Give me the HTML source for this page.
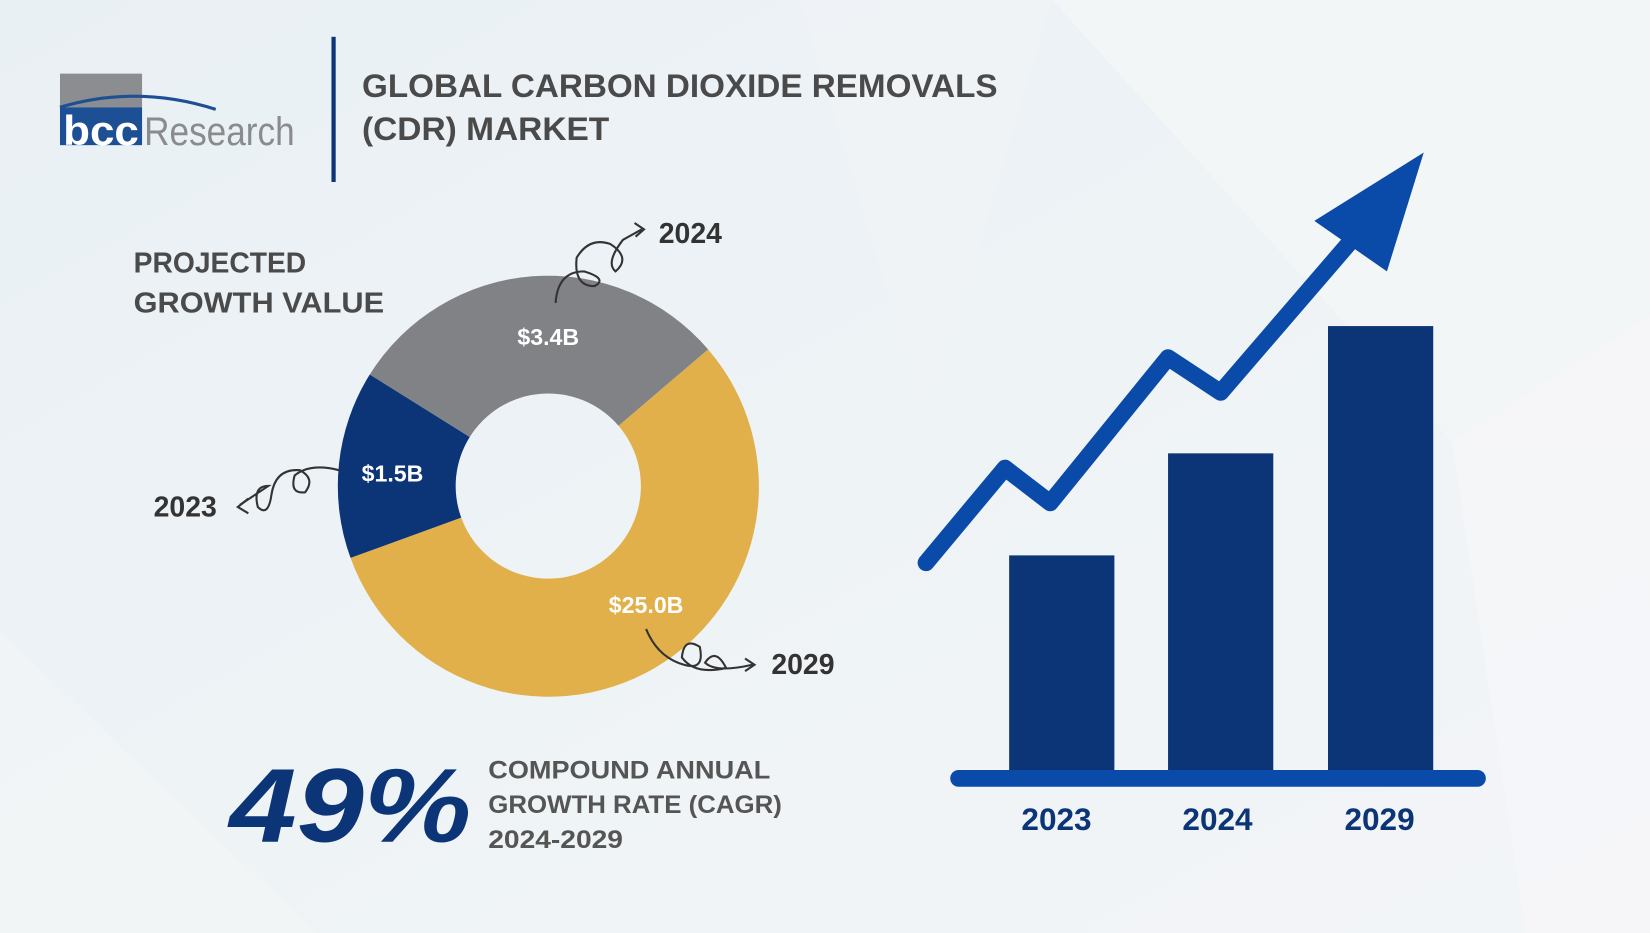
<!DOCTYPE html>
<html><head><meta charset="utf-8"><style>html,body{margin:0;padding:0;overflow:hidden}svg{display:block}</style></head>
<body>
<svg width="1650" height="933" viewBox="0 0 1568 887" preserveAspectRatio="none" xmlns="http://www.w3.org/2000/svg" font-family="'Liberation Sans', sans-serif">
<defs>
<linearGradient id="bg" x1="0" y1="0" x2="1" y2="1">
<stop offset="0" stop-color="#e9f0f4"/><stop offset="0.5" stop-color="#eef3f6"/><stop offset="1" stop-color="#f3f5f7"/>
</linearGradient>
</defs>
<rect width="1568" height="887" fill="url(#bg)"/>
<polygon points="1000,0 1568,0 1568,420 1380,420" fill="#f4f6f8" opacity="0.8"/>
<polygon points="1380,420 1568,300 1568,887 1450,887" fill="#f6f7f9" opacity="0.7"/>
<polygon points="0,600 300,887 0,887" fill="#f2f5f7" opacity="0.7"/>
<polygon points="760,0 1000,0 880,400" fill="#f1f4f6" opacity="0.6"/>

<!-- logo -->
<rect x="57" y="70" width="78" height="32" fill="#8c8d90"/>
<rect x="57" y="102" width="78" height="36" fill="#1d4f95"/>
<path d="M57,102 Q130,80 205,104" stroke="#1d4f95" stroke-width="3" fill="none"/>
<text x="60" y="138" font-size="40" font-weight="bold" fill="#fff" textLength="72" lengthAdjust="spacingAndGlyphs">bcc</text>
<text x="137" y="138" font-size="38" fill="#8a8b8e" textLength="143" lengthAdjust="spacingAndGlyphs">Research</text>
<rect x="315" y="35" width="4" height="138" fill="#0b3577"/>

<text x="344" y="92" font-size="31" font-weight="bold" fill="#4a4a4a" textLength="604" lengthAdjust="spacingAndGlyphs">GLOBAL CARBON DIOXIDE REMOVALS</text>
<text x="344" y="133" font-size="31" font-weight="bold" fill="#4a4a4a" textLength="235" lengthAdjust="spacingAndGlyphs">(CDR) MARKET</text>

<text x="127" y="259" font-size="27" font-weight="bold" fill="#4a4a4a" textLength="164" lengthAdjust="spacingAndGlyphs">PROJECTED</text>
<text x="127" y="297" font-size="27" font-weight="bold" fill="#4a4a4a" textLength="238" lengthAdjust="spacingAndGlyphs">GROWTH VALUE</text>

<!-- donut: center 521,462 R 200 r 88 -->
<g transform="translate(521,462)">
<path d="M151.9,-129.9 A200,200 0 1 1 -187.9,68.4 L-82.7,30.1 A88,88 0 1 0 66.8,-57.2 Z" fill="#e2b04a"/>
<path d="M-187.9,68.4 A200,200 0 0 1 -169.6,-106.0 L-74.6,-46.6 A88,88 0 0 0 -82.7,30.1 Z" fill="#0b3577"/>
<path d="M-169.6,-106.0 A200,200 0 0 1 151.9,-129.9 L66.8,-57.2 A88,88 0 0 0 -74.6,-46.6 Z" fill="#808285"/>
</g>
<text x="521" y="328" font-size="22" font-weight="bold" fill="#fff" text-anchor="middle">$3.4B</text>
<text x="373" y="458" font-size="22" font-weight="bold" fill="#fff" text-anchor="middle">$1.5B</text>
<text x="614" y="583" font-size="22" font-weight="bold" fill="#fff" text-anchor="middle">$25.0B</text>

<!-- squiggles -->
<g stroke="#333" stroke-width="2" fill="none">
<path d="M528,288 Q530,258 555,258 Q578,265 565,272 Q545,272 548,245 Q560,225 580,232 Q600,245 585,258 Q575,250 592,228 L610,218"/>
<path d="M603,212 L612,218 L604,225"/>
<path d="M322,447 Q295,440 280,452 Q275,470 290,468 Q300,455 285,447 Q262,445 258,470 Q255,492 245,482 Q240,462 255,462 L228,480"/>
<path d="M236,474 L226,482 L236,488"/>
<path d="M614,598 Q625,625 650,632 Q670,638 665,615 Q650,605 648,625 Q660,642 690,635 Q680,615 670,630 Q680,640 715,632"/>
<path d="M708,626 L717,632 L708,638"/>
</g>
<text x="626" y="231" font-size="27" font-weight="bold" fill="#333">2024</text>
<text x="146" y="491" font-size="27" font-weight="bold" fill="#333">2023</text>
<text x="733" y="641" font-size="27" font-weight="bold" fill="#333">2029</text>

<text x="218" y="800" font-size="100" font-weight="bold" font-style="italic" fill="#0b3577" textLength="230" lengthAdjust="spacingAndGlyphs">49%</text>
<text x="464" y="740" font-size="24" font-weight="bold" fill="#555" textLength="268" lengthAdjust="spacingAndGlyphs">COMPOUND ANNUAL</text>
<text x="464" y="773" font-size="24" font-weight="bold" fill="#555" textLength="279" lengthAdjust="spacingAndGlyphs">GROWTH RATE (CAGR)</text>
<text x="464" y="806" font-size="24" font-weight="bold" fill="#555" textLength="128" lengthAdjust="spacingAndGlyphs">2024-2029</text>

<!-- bars -->
<rect x="959" y="528" width="100" height="210" fill="#0b3577"/>
<rect x="1110" y="431" width="100" height="307" fill="#0b3577"/>
<rect x="1262" y="310" width="100" height="428" fill="#0b3577"/>
<line x1="911" y1="740" x2="1404" y2="740" stroke="#0a4aa8" stroke-width="16" stroke-linecap="round"/>
<text x="1004" y="789" font-size="30" font-weight="bold" fill="#0b3577" text-anchor="middle">2023</text>
<text x="1157" y="789" font-size="30" font-weight="bold" fill="#0b3577" text-anchor="middle">2024</text>
<text x="1311" y="789" font-size="30" font-weight="bold" fill="#0b3577" text-anchor="middle">2029</text>

<!-- arrow -->
<polyline points="880,535 955,445 998,478 1110,340 1160,373 1290,222" stroke="#0a4aa8" stroke-width="16" fill="none" stroke-linecap="round" stroke-linejoin="round"/>
<polygon points="1353,145 1249,210 1318,258" fill="#0a4aa8"/>
</svg>
</body></html>
